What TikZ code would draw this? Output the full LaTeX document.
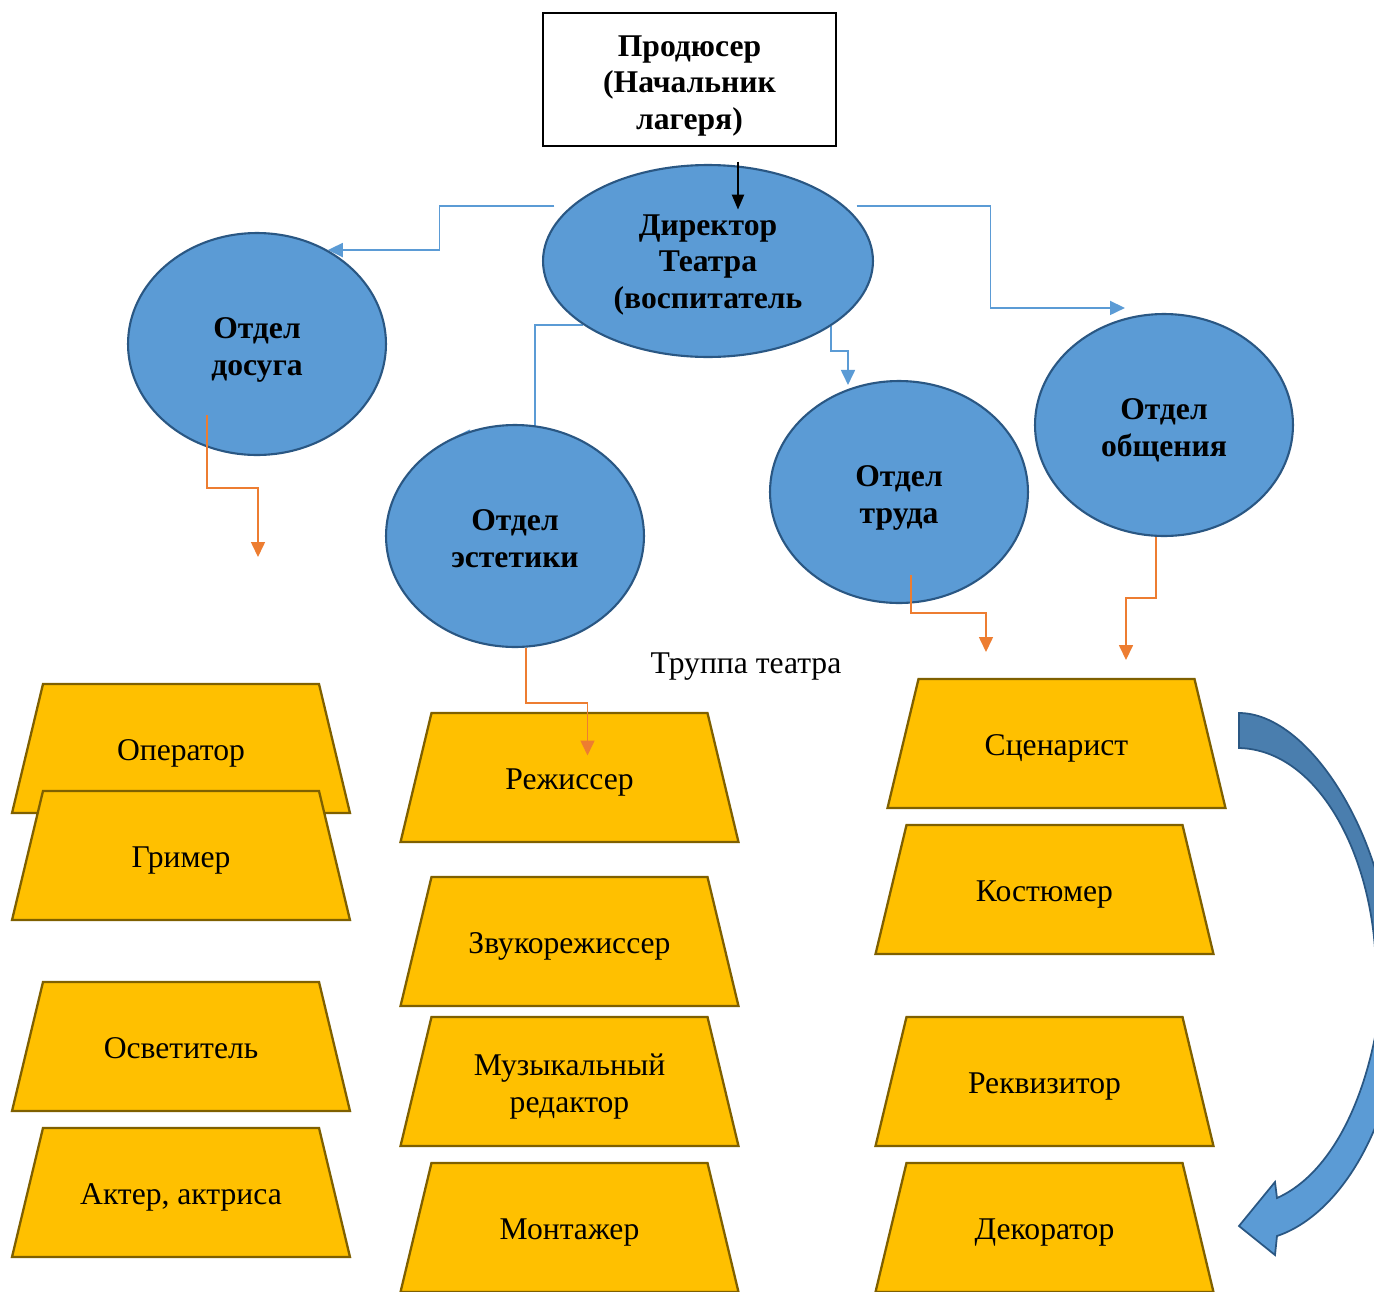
\documentclass[tikz,border=0pt]{standalone}
\usepackage{fontspec}
\setmainfont{Liberation Serif}
\usepackage{tikz}
\usetikzlibrary{positioning,shapes.geometric,arrows.meta,calc}
\pgfdeclarelayer{bg}
\pgfsetlayers{bg,main}
\definecolor{deptblue}{HTML}{5B9BD5}
\definecolor{deptline}{HTML}{2A5783}
\definecolor{arrowdark}{HTML}{4A7EAE}
\definecolor{roleyellow}{HTML}{FFC000}
\definecolor{roleline}{HTML}{7F6000}
\definecolor{linkorange}{HTML}{ED7D31}
\newcommand{\bigtext}{\fontsize{18}{21}\selectfont}

\begin{document}
\begin{tikzpicture}[x=0.02cm,y=0.02cm,on grid,
    dept/.style={ellipse,draw=deptline,fill=deptblue,line width=1.2pt,
      minimum width=5.16cm,minimum height=4.44cm,inner sep=0pt,
      text height=1.452cm,text depth=0.2cm,
      align=center,font=\bigtext\bfseries},
    role/.style={trapezium,trapezium angle=76.5,trapezium stretches body,
      draw=roleline,fill=roleyellow,line width=1.3pt,inner sep=0pt,
      text height=1.536cm,text depth=1.044cm,
      minimum width=6.76cm,align=center,font=\bigtext},
    bluelink/.style={draw=deptblue,line width=1pt,-{Triangle[length=0.3cm,width=0.28cm]}},
    orangelink/.style={draw=linkorange,line width=0.9pt,-{Triangle[length=0.3cm,width=0.28cm]}}]
  \useasboundingbox (0,0) rectangle (1374,-1292);
  \clip (0,0) rectangle (1374,-1292);

  \node[draw,line width=1.1pt,minimum width=5.86cm,minimum height=2.62cm,
    text height=2.212cm,text depth=0.2cm,
    align=center,font=\bigtext\bfseries] (prod) at (689.5,-79.5) {Продюсер\\(Начальник\\лагеря)};

  % departments
  \node[dept,minimum width=6.6cm,minimum height=3.84cm,text height=2.112cm] (dir) at (708,-261) {Директор\\Театра\\(воспитатель};
  \node[dept] (dos) at (257,-344) {Отдел\\досуга};
  \node[dept] (est) at (515,-536) {Отдел\\эстетики};
  \node[dept] (tru) at (899,-492) {Отдел\\труда};
  \node[dept] (obs) at (1164,-425) {Отдел\\общения};

  \node[font=\bigtext] (troupe) at (746,-667) {Труппа театра};

  % troupe
  \node[role] (oper) at (181,-748.5) {Оператор};
  \node[role,below=2.14cm of oper] (grim) {Гример};
  \node[role,below=3.82cm of grim] (osv) {Осветитель};
  \node[role,below=2.92cm of osv] (akt) {Актер, актриса};
  \node[role] (rezh) at (569.5,-777.5) {Режиссер};
  \node[role,below=3.28cm of rezh] (zvuk) {Звукорежиссер};
  \node[role,below=2.8cm of zvuk,text height=1.916cm,text depth=0.664cm] (muz) {Музыкальный\\редактор};
  \node[role,below=2.92cm of muz] (mont) {Монтажер};
  \node[role] (scen) at (1056.5,-743.5) {Сценарист};
  \node[role] (kost) at (1044.5,-889.5) {Костюмер};
  \node[role,below=3.84cm of kost] (rekv) {Реквизитор};
  \node[role,below=2.92cm of rekv] (dek) {Декоратор};

  \begin{pgfonlayer}{bg}
    \draw[bluelink] ($(dir.158)+(-17,0)$) -- ++(-115,0) |- (dos.53);
    \draw[bluelink] ($(dir.22)+(12,0)$) -- ++(134,0) |- ($(obs.north)+(-39,5)$);
    \draw[bluelink] (dir.207) -- ++(-48,0) |- (est.121);
    \draw[bluelink] (dir.-28) -- ++(0,-25) -| ($(tru.north)+(-51,-5)$);
  \end{pgfonlayer}

  \draw[line width=1.3pt,-{Triangle[length=0.3cm,width=0.24cm]}] ($(prod.south)+(48.5,-15)$) -- ++(0,-48);

  \draw[orangelink] ($(dos.center)+(-50,-71)$) |- ++(51,-73) -- ++(0,-69);
  \draw[orangelink] ($(est.south)+(11,0)$) -- ++(0,-55) -| ($(rezh.center)+(18,22)$);
  \draw[orangelink] ($(tru.center)+(12,-83)$) |- ++(75,-38) -- ++(0,-39);
  \draw[orangelink] ($(obs.south)+(-8,0)$) |- ++(-30,-61) -- ++(0,-62);

  % curved arrow
  \filldraw[fill=arrowdark,draw=deptline,line width=1pt] (1239,-713) .. controls (1310,-713) and (1390,-840) .. (1393,-975)
    -- (1376,-975) .. controls (1376,-860) and (1320,-750) .. (1239,-748) -- cycle;
  \filldraw[fill=deptblue,draw=deptline,line width=1pt] (1385,-940) .. controls (1383,-1070) and (1340,-1170) .. (1277,-1198)
    -- (1275,-1182) -- (1239,-1226) -- (1275,-1255) -- (1277,-1236)
    .. controls (1340,-1215) and (1405,-1120) .. (1405,-960) -- cycle;
\end{tikzpicture}
\end{document}
